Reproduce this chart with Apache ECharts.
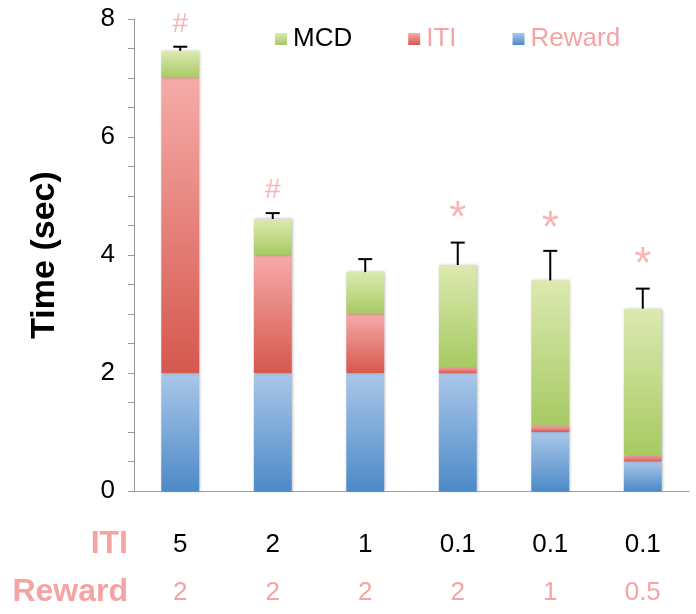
<!DOCTYPE html>
<html><head><meta charset="utf-8">
<script src="https://cdn.jsdelivr.net/npm/echarts@6/dist/echarts.min.js"></script>
<style>html,body{margin:0;padding:0;background:#fff}#c{width:696px;height:614px}</style>
</head><body><div id="c"></div>
<script>
const itiLabels = ['5','2','1','0.1','0.1','0.1'];
const rewardLabels = ['2','2','2','2','1','0.5'];
const rewardValues = [2, 2, 2, 2, 1, 0.5];
const itiValues = [5, 2, 1, 0.1, 0.1, 0.1];
const mcdValues = [0.46, 0.61, 0.71, 1.73, 2.47, 2.49];
const errorTops = [7.53, 4.71, 3.93, 4.21, 4.07, 3.43];
const sigMarks = ['#', '#', '', '*', '*', '*'];
const sigPos = [7.91, 5.1, null, 4.6, 4.43, 3.82];

const PINK = '#f5a3a3';
const FONT = 'Liberation Sans, Arial, sans-serif';
const grad = (top, bottom) => new echarts.graphic.LinearGradient(0, 0, 0, 1, [
  {offset: 0, color: top}, {offset: 1, color: bottom}]);
const shadow = {shadowBlur: 3, shadowColor: 'rgba(0,0,0,0.3)', shadowOffsetX: 1, shadowOffsetY: 0};

const totals = rewardValues.map((r, i) => r + itiValues[i] + mcdValues[i]);

const chart = echarts.init(document.getElementById('c'), null, {renderer: 'canvas'});
chart.setOption({
  animation: false,
  textStyle: {fontFamily: FONT},
  grid: {left: 134, right: 7, top: 19, bottom: 123},
  legend: {
    left: 270, top: 21, itemWidth: 12, itemHeight: 12, itemGap: 56, icon: 'rect',
    textStyle: {fontSize: 26, padding: [0, 0, 0, 1]},
    data: [
      {name: 'MCD', textStyle: {color: '#000'}},
      {name: 'ITI', textStyle: {color: PINK}},
      {name: 'Reward', textStyle: {color: PINK}}
    ]
  },
  xAxis: {
    type: 'category', data: itiLabels,
    axisLine: {lineStyle: {color: '#999', width: 1}},
    axisTick: {length: 7, lineStyle: {color: '#999'}},
    axisLabel: {
      margin: 30,
      formatter: (v, i) => '{a|' + v + '}\n{b|' + rewardLabels[i] + '}',
      rich: {
        a: {color: '#000', fontSize: 26, lineHeight: 48},
        b: {color: PINK, fontSize: 26, lineHeight: 48}
      }
    }
  },
  yAxis: {
    type: 'value', min: 0, max: 8, interval: 0.5,
    name: 'Time (sec)', nameLocation: 'middle', nameGap: 72,
    nameTextStyle: {fontSize: 34, fontWeight: 'bold', color: '#000'},
    axisLine: {show: true, lineStyle: {color: '#999'}},
    axisTick: {show: true, length: 6, lineStyle: {color: '#999'}},
    splitLine: {show: false},
    axisLabel: {margin: 19, fontSize: 26, color: '#000',
      formatter: v => (v % 2 === 0 ? String(v) : '')}
  },
  graphic: [
    {type: 'text', right: 568, top: 528, style: {text: 'ITI', fill: PINK, fontSize: 32, fontWeight: 'bold', fontFamily: FONT}},
    {type: 'text', right: 568, top: 576, style: {text: 'Reward', fill: PINK, fontSize: 32, fontWeight: 'bold', fontFamily: FONT}}
  ],
  series: [
    {name: 'Reward', type: 'bar', stack: 't', barWidth: '41%', data: rewardValues,
      itemStyle: Object.assign({color: grad('#aac7e9', '#4d8ac8')}, shadow)},
    {name: 'ITI', type: 'bar', stack: 't', data: itiValues,
      itemStyle: Object.assign({color: grad('#f6aba8', '#d5584e')}, shadow)},
    {name: 'MCD', type: 'bar', stack: 't', data: mcdValues,
      itemStyle: Object.assign({color: grad('#dce9b0', '#a7ca63')}, shadow)},
    {name: 'err', type: 'custom', data: totals.map((t, i) => [i, t, errorTops[i]]),
      renderItem: (params, api) => {
        const b = api.coord([api.value(0), api.value(1)]);
        const t = api.coord([api.value(0), api.value(2)]);
        const s = {stroke: '#000', lineWidth: 2};
        return {type: 'group', children: [
          {type: 'line', shape: {x1: b[0], y1: b[1], x2: t[0], y2: t[1]}, style: s},
          {type: 'line', shape: {x1: t[0] - 7, y1: t[1], x2: t[0] + 7, y2: t[1]}, style: s}
        ]};
      }, z: 5},
    {name: 'sig', type: 'scatter', symbolSize: 1, itemStyle: {color: 'rgba(0,0,0,0)'},
      data: sigPos.map((y, i) => (y === null ? [i, '-'] : [i, y])),
      label: {show: true, position: 'inside',
        formatter: p => sigMarks[p.dataIndex] === '*' ? '{s|*}' : '{h|#}',
        rich: {s: {fontSize: 44, color: PINK}, h: {fontSize: 28, color: PINK}}}
    }
  ]
});
</script>
</body></html>
